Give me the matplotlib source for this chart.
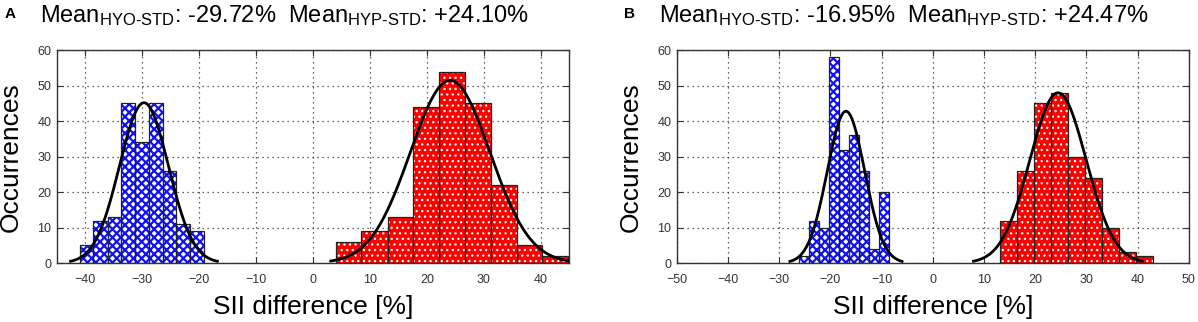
import numpy as np
import matplotlib
matplotlib.use('Agg')
import matplotlib.pyplot as plt

plt.rcParams['font.family'] = ['Liberation Sans', 'DejaVu Sans']
plt.rcParams['mathtext.fontset'] = 'custom'
plt.rcParams['mathtext.rm'] = 'Liberation Sans'
plt.rcParams['mathtext.it'] = 'Liberation Sans'

# panel A
a_hyo_edges = [-41.0, -38.6, -36.1, -33.7, -31.3, -28.8, -26.4, -24.0, -21.6, -19.1]
a_hyo_counts = [5, 12, 13, 45, 34, 45, 26, 11, 9]
a_hyp_edges = [4.0, 8.5, 13.1, 17.6, 22.1, 26.7, 31.2, 35.8, 40.3, 44.9]
a_hyp_counts = [6, 9, 13, 44, 54, 45, 22, 5, 2]
# normal fits: mean, sd, peak height
a_hyo_fit = (-29.72, 4.3, 45.2)
a_hyp_fit = (24.10, 7.0, 51.5)

# panel B
b_hyo_edges = [-26.1, -24.1, -22.2, -20.2, -18.3, -16.3, -14.4, -12.4, -10.5, -8.5]
b_hyo_counts = [2, 12, 10, 58, 32, 36, 26, 4, 20]
b_hyp_edges = [13.2, 16.45, 19.7, 23.1, 26.4, 29.8, 33.0, 36.4, 39.7, 42.95]
b_hyp_counts = [12, 26, 45, 48, 30, 24, 10, 3, 2]
b_hyo_fit = (-16.95, 3.65, 42.8)
b_hyp_fit = (24.47, 5.5, 48.0)

panels = [
    dict(label='A', hyo=(a_hyo_edges, a_hyo_counts, a_hyo_fit), hyp=(a_hyp_edges, a_hyp_counts, a_hyp_fit),
         xlim=(-45, 45), xticks=np.arange(-40, 41, 10),
         title=r'Mean$_{\text{HYO-STD}}$: -29.72%  Mean$_{\text{HYP-STD}}$: +24.10%'),
    dict(label='B', hyo=(b_hyo_edges, b_hyo_counts, b_hyo_fit), hyp=(b_hyp_edges, b_hyp_counts, b_hyp_fit),
         xlim=(-50, 50), xticks=np.arange(-50, 51, 10),
         title=r'Mean$_{\text{HYO-STD}}$: -16.95%  Mean$_{\text{HYP-STD}}$: +24.47%'),
]

fig = plt.figure(figsize=(11.98, 3.22), dpi=100)
lefts = [0.0476, 0.5649]


def draw_hist(ax, edges, counts, face, hatch, hatch_col, hatch_lw):
    edges = np.asarray(edges)
    w = np.diff(edges)
    with plt.rc_context({'hatch.linewidth': hatch_lw}):
        bars = ax.bar(edges[:-1], counts, width=w, align='edge', facecolor=face,
                      edgecolor=hatch_col, hatch=hatch, linewidth=0, zorder=2)
        for b in bars:
            if hasattr(b, 'set_hatch_linewidth'):
                b.set_hatch_linewidth(hatch_lw)
    ax.bar(edges[:-1], counts, width=w, align='edge', facecolor='none',
           edgecolor='#222222', linewidth=0.9, zorder=3)


def draw_fit(ax, fit):
    mu, sd, peak = fit
    xs = np.linspace(mu - 3 * sd, mu + 3 * sd, 200)
    ax.plot(xs, peak * np.exp(-0.5 * ((xs - mu) / sd) ** 2), color='black', lw=2, zorder=4)


for p, left in zip(panels, lefts):
    ax = fig.add_axes([left, 0.183, 0.4274, 0.661])
    draw_hist(ax, *p['hyo'][:2], face='white', hatch='xxxx', hatch_col='#1010ff', hatch_lw=1.6)
    draw_hist(ax, *p['hyp'][:2], face='#ff0000', hatch='...', hatch_col='white', hatch_lw=0.9)
    draw_fit(ax, p['hyo'][2])
    draw_fit(ax, p['hyp'][2])
    ax.set_xlim(*p['xlim'])
    ax.set_ylim(0, 60)
    ax.set_xticks(p['xticks'])
    ax.set_yticks(np.arange(0, 61, 10))
    ax.grid(True, linestyle=(0, (1, 3)), color='#333333', linewidth=0.9)
    ax.set_axisbelow(True)
    ax.tick_params(direction='in', top=True, right=True, length=4, labelsize=9,
                   labelcolor='#333333', color='#333333')
    ax.tick_params(axis='x', pad=8)
    ax.tick_params(axis='y', pad=4)
    for s in ax.spines.values():
        s.set_color('#333333')
        s.set_linewidth(1.0)
    ax.set_xlabel('SII difference [%]', fontsize=19, labelpad=6)
    ax.set_ylabel('Occurrences', fontsize=19)
    ax.yaxis.set_label_coords(-0.066, 0.5)
    fig.text(left - 0.0145, 0.93, p['title'], fontsize=17, ha='left', va='baseline')
    fig.text(left - 0.044, 0.945, p['label'], fontsize=11, fontweight='bold', ha='left', va='baseline')

fig.savefig('out.png', dpi=100)
